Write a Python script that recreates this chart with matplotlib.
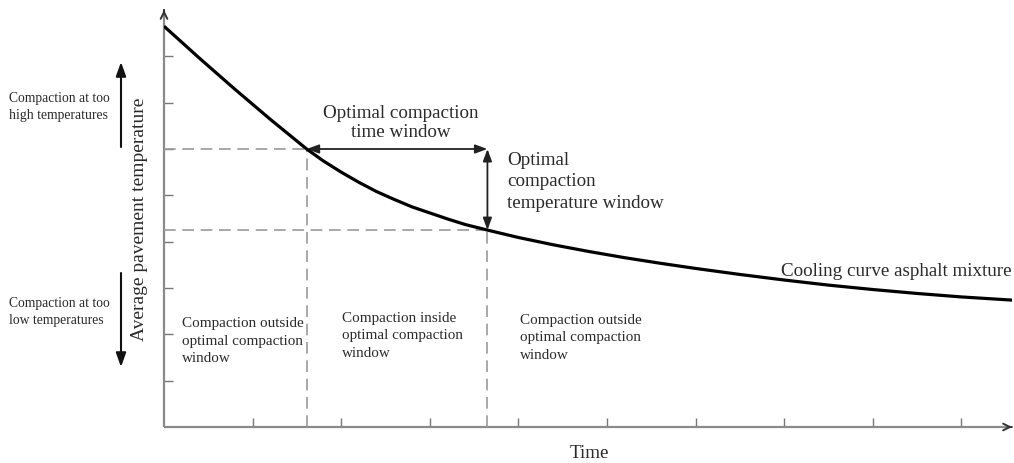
import matplotlib
matplotlib.use("Agg")
import matplotlib.pyplot as plt

# ---- data (axis units: one tick = one unit) ----
curve_time = [0.0, 0.4, 0.8, 1.2, 1.61, 1.8, 2.0, 2.2, 2.4, 2.6, 2.8, 3.0, 3.2, 3.4, 3.65,
              4.0, 4.4, 4.8, 5.2, 5.6, 6.0, 6.5, 7.0, 7.5, 8.0, 8.5, 9.0, 9.6]
curve_temp = [8.65, 7.96, 7.29, 6.64, 6.00, 5.74, 5.50, 5.28, 5.08, 4.91, 4.75, 4.62, 4.49, 4.37, 4.25,
              4.09, 3.93, 3.786, 3.654, 3.534, 3.422, 3.292, 3.172, 3.062, 2.967, 2.882, 2.807, 2.735]
x_ticks = [1, 2, 3, 4, 5, 6, 7, 8, 9]
y_ticks = [1, 2, 3, 4, 5, 6, 7, 8]
window_start, window_end = 1.61, 3.65
temp_upper, temp_lower = 6.0, 4.25
x_max, y_max = 9.57, 9.0

W, H = 1014, 463
fig = plt.figure(figsize=(W / 100, H / 100), dpi=100)
ax = fig.add_axes([164 / W, (H - 427) / H, (1012 - 164) / W, (427 - 10) / H])
ax.set_xlim(0, x_max)
ax.set_ylim(0, y_max)
for s in ax.spines.values():
    s.set_visible(False)
ax.set_xticks(x_ticks)
ax.set_yticks(y_ticks)
ax.tick_params(direction='in', length=6.5, width=1.0, colors='#777777',
               labelbottom=False, labelleft=False)

axis_col = '#8a8a8a'
# axes with arrows
ax.plot([0, x_max - 0.02], [0, 0], color=axis_col, lw=1.6, clip_on=False, solid_capstyle='butt')
ax.plot([0, 0], [0, y_max - 0.03], color=axis_col, lw=1.6, clip_on=False, solid_capstyle='butt')
ax.annotate('', xy=(x_max, 0), xytext=(x_max - 0.01, 0), annotation_clip=False,
            arrowprops=dict(arrowstyle='->', color='#333333', lw=1.4,
                            shrinkA=0, shrinkB=0, mutation_scale=12))
ax.annotate('', xy=(0, y_max), xytext=(0, y_max - 0.01), annotation_clip=False,
            arrowprops=dict(arrowstyle='->', color='#333333', lw=1.4,
                            shrinkA=0, shrinkB=0, mutation_scale=12))

# dashed guide lines
dash_kw = dict(color='#9a9a9a', lw=1.2, dashes=(7, 4))
ax.plot([0, window_start], [temp_upper, temp_upper], **dash_kw)
ax.plot([0, window_end], [temp_lower, temp_lower], **dash_kw)
ax.plot([window_start, window_start], [0, temp_upper], **dash_kw)
ax.plot([window_end, window_end], [0, temp_lower], **dash_kw)

# cooling curve
ax.plot(curve_time, curve_temp, color='black', lw=2.3, solid_capstyle='butt',
        solid_joinstyle='round', zorder=5)

# window arrows
arr_kw = dict(arrowstyle='<|-|>,head_length=0.6,head_width=0.22', color='#222222',
              lw=1.3, shrinkA=0, shrinkB=0, mutation_scale=12)
ax.annotate('', xy=(window_end, temp_upper), xytext=(window_start, temp_upper), arrowprops=arr_kw)
ax.annotate('', xy=(window_end, temp_lower), xytext=(window_end, temp_upper), arrowprops=arr_kw)

serif = ['Liberation Serif', 'DejaVu Serif']
tc = '#2a2a2a'


def ftext(px, py, s, size, ha='left', va='center', ls=1.2, rot=0):
    fig.text(px / W, 1 - py / H, s, fontsize=size, ha=ha, va=va, family=serif,
             color=tc, linespacing=ls, rotation=rot, multialignment='center' if ha == 'center' else 'left')


ftext(400.5, 123, 'Optimal compaction\ntime window', 13.7, ha='center', ls=1.22)
ftext(507, 182, 'Optimal\ncompaction\ntemperature window', 13.7, ls=1.34)
ftext(781, 272, 'Cooling curve asphalt mixture', 13.7)
ftext(589, 453, 'Time', 13.7, ha='center')
ftext(139.5, 219, 'Average pavement temperature', 14, ha='center', rot=90)
ftext(9, 107, 'Compaction at too\nhigh temperatures', 9.8, ls=1.46)
ftext(9, 312, 'Compaction at too\nlow temperatures', 9.8, ls=1.46)
ftext(182, 341, 'Compaction outside\noptimal compaction\nwindow', 10.9, ls=1.42)
ftext(342, 336, 'Compaction inside\noptimal compaction\nwindow', 10.9, ls=1.42)
ftext(520, 338, 'Compaction outside\noptimal compaction\nwindow', 10.9, ls=1.42)

# left direction arrows
side_kw = dict(arrowstyle='-|>,head_length=0.7,head_width=0.25', color='#111111', lw=1.5,
               shrinkA=0, shrinkB=0, mutation_scale=12)
ax.annotate('', xy=(121, H - 62), xytext=(121, H - 147), xycoords='figure pixels',
            textcoords='figure pixels', arrowprops=side_kw, annotation_clip=False)
ax.annotate('', xy=(121, H - 367), xytext=(121, H - 273), xycoords='figure pixels',
            textcoords='figure pixels', arrowprops=side_kw, annotation_clip=False)

fig.savefig('out.png', dpi=100, facecolor='white')
